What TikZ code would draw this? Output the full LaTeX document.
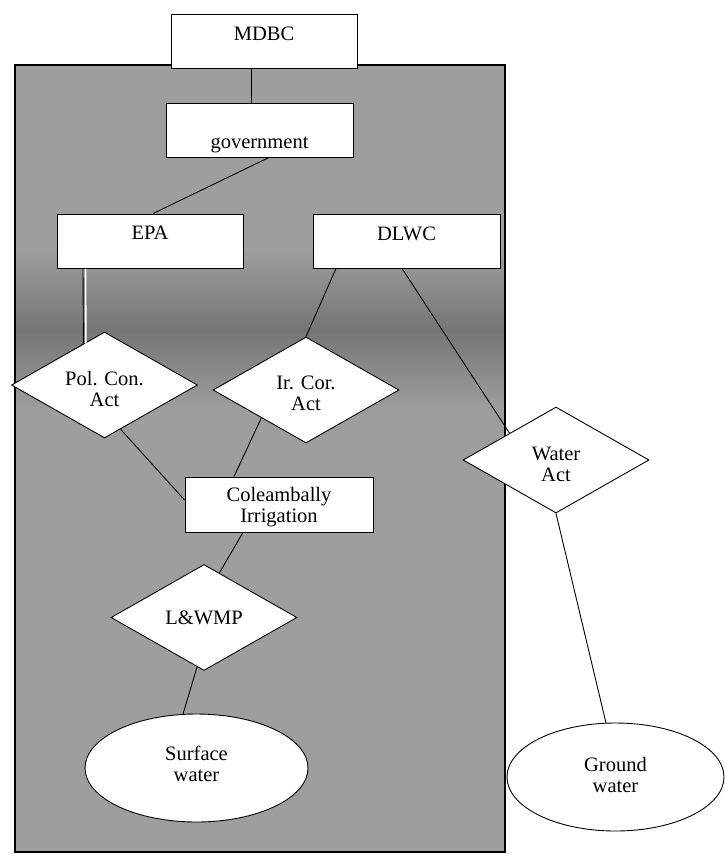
\documentclass[tikz,border=0pt]{standalone}
\usepackage{fontspec}
\setmainfont{Liberation Serif}
\usetikzlibrary{shapes.geometric}
\begin{document}
\begin{tikzpicture}[x=1pt,y=-1pt,
  every node/.style={font=\fontsize{20.5}{21}\selectfont, inner sep=0pt, align=center},
  boxnode/.style={rectangle, draw, fill=white, line width=0.9pt, minimum width=#1, minimum height=54pt},
  dia/.style={diamond, draw, fill=white, line width=0.9pt, minimum width=186pt, minimum height=106pt, aspect=1.75},
  ell/.style={ellipse, draw, fill=white, line width=0.9pt, minimum height=108pt, minimum width=#1},
  link/.style={line width=0.9pt}]
\useasboundingbox (0,0) rectangle (724,854);
% shaded region
\fill[black!38] (15,65) rectangle (505,852);
\shade[top color=black!38, bottom color=black!38, middle color=black!54] (15,250) rectangle (505,410);
\draw[line width=1.2pt] (15,65) rectangle (505,852);
% nodes
\node[boxnode=186pt, text height=11pt, text depth=13pt] (mdbc) at (264,41) {MDBC};
\node[boxnode=187pt, text height=40pt, text depth=5pt] (gov) at (259.5,130.5) {government};
\node[boxnode=186pt, text height=10pt, text depth=14pt] (epa) at (150,241) {EPA};
\node[boxnode=187pt, text height=11pt, text depth=13pt] (dlwc) at (406.5,241) {DLWC};
\node[dia] (pol) at (104.5,385) {\rule{0pt}{23pt}Pol. Con.\\Act};
\node[dia] (ir) at (306,390) {\rule{0pt}{21pt}Ir. Cor.\\Act};
\node[dia] (wa) at (556,460) {\rule{0pt}{23pt}Water\\Act};
\node[boxnode=188pt, minimum height=55pt] (col) at (279,504.5) {\rule{0pt}{20pt}Coleambally\\Irrigation};
\node[dia] (lw) at (204,617.5) {L\&WMP};
\node[ell=223pt] (sw) at (196.5,768) {Surface\\water\rule[-9pt]{0pt}{0pt}};
\node[ell=217pt] (gw) at (615.5,777) {Ground\\water\rule[-5pt]{0pt}{0pt}};
% connectors
\draw[link] ([xshift=-13pt]mdbc.south) -- ([xshift=-8.5pt]gov.north);
\draw[link] ([xshift=8.5pt]gov.south) -- ([xshift=3pt]epa.north);
\draw[white, line width=1.6pt] ([xshift=-64.5pt, yshift=-0.5pt]epa.south) -- ([xshift=2.5pt]pol.117.7);
\draw[link] ([xshift=-67pt]epa.south) -- (pol.117.7);
\draw[link] ([xshift=-70.5pt]dlwc.south) -- (ir.north);
\draw[link] ([xshift=-4.5pt]dlwc.south) -- (wa.150);
\draw[link] (pol.-70) -- ([yshift=4.5pt]col.west);
\draw[link] (ir.212.5) -- ([xshift=-45pt]col.north);
\draw[link] ([xshift=-36pt]col.south) -- (lw.71);
\draw[link] (lw.262) -- (sw.104);
\draw[link] (wa.south) -- (gw.100);
\end{tikzpicture}
\end{document}
